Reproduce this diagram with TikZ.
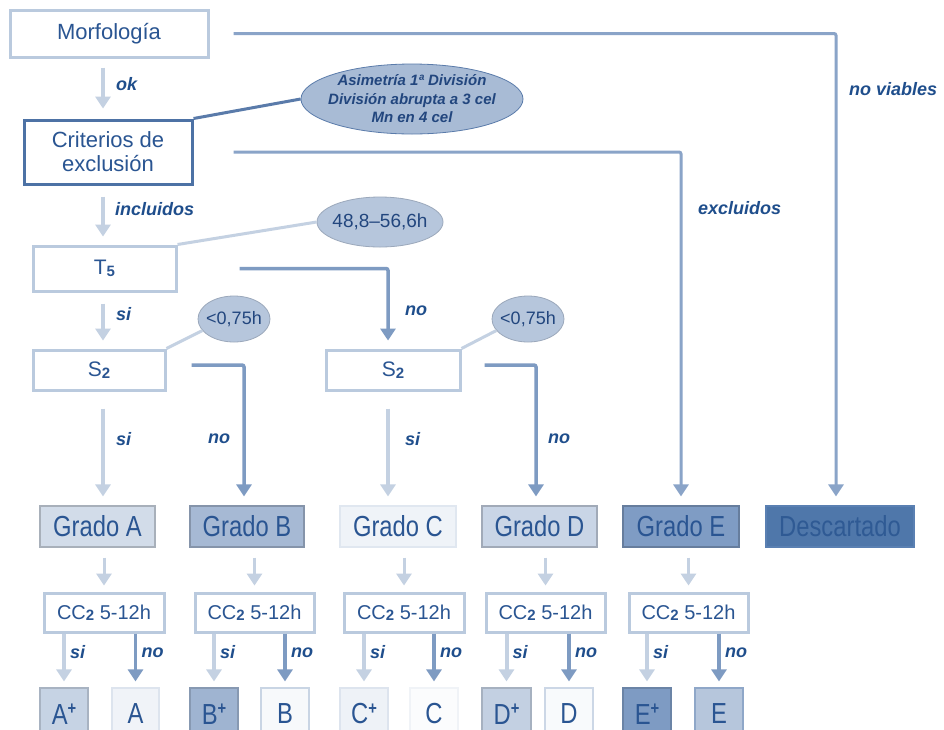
\documentclass[tikz,border=0pt]{standalone}
\usepackage{fontspec}
\setmainfont{Liberation Sans}
\newfontfamily\narrowsans{Liberation Sans}[FakeStretch=0.82]
\usetikzlibrary{arrows.meta,shapes.geometric}
\definecolor{txt}{HTML}{2A5592}
\definecolor{lbl}{HTML}{1F4E8C}
\definecolor{ovtxt}{HTML}{22467E}
\definecolor{lightb}{HTML}{BACADE}
\definecolor{darkb}{HTML}{4D72A5}
\definecolor{arL}{HTML}{C4D1E2}
\definecolor{arD}{HTML}{7E9BC2}
\definecolor{conn}{HTML}{8AA4C8}
\definecolor{ovalA}{HTML}{A8BBD5}
\definecolor{ovalAb}{HTML}{5A7BAA}
\definecolor{ovalB}{HTML}{B6C6DC}
\definecolor{fGA}{HTML}{D2DCE9}
\definecolor{fGB}{HTML}{A6B9D4}
\definecolor{fGC}{HTML}{EFF3F8}
\definecolor{bGC}{HTML}{E0E7F0}
\definecolor{fGD}{HTML}{C9D5E6}
\definecolor{fGE}{HTML}{7F9CC4}
\definecolor{fGX}{HTML}{4F77AA}
\definecolor{bGX}{HTML}{5A80B2}
\definecolor{tGX}{HTML}{2F5A94}
\definecolor{fAP}{HTML}{C6D3E4}
\definecolor{fAN}{HTML}{F0F3F8}
\definecolor{bAN}{HTML}{DDE4EE}
\definecolor{fBP}{HTML}{9FB4D1}
\definecolor{fBN}{HTML}{F7F9FB}
\definecolor{bBN}{HTML}{C9D5E4}
\definecolor{fCP}{HTML}{EEF2F7}
\definecolor{fCN}{HTML}{FBFCFD}
\definecolor{bCN}{HTML}{F0F3F7}
\definecolor{fDP}{HTML}{C3D0E2}
\definecolor{fDN}{HTML}{F8FAFC}
\definecolor{bDN}{HTML}{CCD7E6}
\definecolor{fEP}{HTML}{7E9BC3}
\definecolor{fEN}{HTML}{B6C6DC}
\definecolor{bEN}{HTML}{8FA7C8}
\newcommand\lowdig[1]{\raisebox{-0.12ex}{\bfseries\fontsize{15}{15}\selectfont #1}}
\newcommand\plusmark{\raisebox{0.62ex}{\bfseries\fontsize{18}{18}\selectfont +}}
\tikzset{
  wbox/.style={draw=lightb, line width=3pt, fill=white, inner sep=0pt, text=txt, font=\fontsize{21}{24}\selectfont},
  gbox/.style={draw=#1!80!black, line width=1.2pt, fill=#1, inner sep=0pt, text=txt, font=\narrowsans\fontsize{29}{30}\selectfont, minimum height=41pt},
  lbox/.style={draw=#1!85!black, line width=1.2pt, fill=#1, inner sep=0pt, text=txt, font=\narrowsans\fontsize{29}{30}\selectfont, minimum height=52pt},
  cbox/.style={wbox, minimum height=39pt, font=\fontsize{20}{22}\selectfont},
  arrL/.style={draw=arL, line width=4pt, -{Triangle[width=15pt,length=12pt]}},
  arrD/.style={draw=arD, line width=3.5pt, -{Triangle[width=15pt,length=12pt]}},
  connD/.style={draw=conn, line width=3pt, rounded corners=2pt, -{Triangle[width=15pt,length=12pt]}},
  lab/.style={text=lbl, font=\bfseries\itshape\fontsize{18}{20}\selectfont, inner sep=0pt, anchor=west},
  oval/.style={ellipse, fill=#1, draw=#1!85!black, line width=0.8pt, text=ovtxt},
}
\begin{document}
\begin{tikzpicture}[x=1pt,y=-1pt]
\useasboundingbox (0,0) rectangle (944,729);
\clip (0,0) rectangle (944,729);
\fill[white] (0,0) rectangle (944,729);
% top boxes
\node[wbox, minimum width=198pt, minimum height=47pt, font=\fontsize{22}{24}\selectfont] (M) at (109,33.5) {Morfología};
\node[wbox, draw=darkb, minimum width=168pt, minimum height=64pt, align=center, font=\fontsize{22}{24}\selectfont] (CR) at (108,152) {Criterios de\\exclusión};
\node[wbox, minimum width=143pt, minimum height=45pt] (T) at (104.5,268.5) {T\lowdig{5}};
\node[wbox, minimum width=132pt, minimum height=40pt] (SL) at (99,370) {S\lowdig{2}};
\node[wbox, minimum width=134pt, minimum height=40pt] (SC) at (393,370) {S\lowdig{2}};
% ellipses
\node[oval=ovalA, draw=ovalAb, inner xsep=-12pt, inner ysep=-4pt, minimum width=222pt, minimum height=70pt, align=center, font=\bfseries\itshape\fontsize{15}{18.5}\selectfont] (E1) at (412,99) {Asimetría 1ª División\\División abrupta a 3 cel\\Mn en 4 cel};
\node[oval=ovalB, inner xsep=-4pt, inner ysep=0pt, minimum width=126pt, minimum height=50pt, font=\fontsize{19}{20}\selectfont] (E2) at (380,222) {48,8–56,6h};
\node[oval=ovalB, inner xsep=-4pt, inner ysep=0pt, minimum width=72pt, minimum height=46pt, font=\fontsize{18}{20}\selectfont] (E3) at (234,319) {<0,75h};
\node[oval=ovalB, inner xsep=-4pt, inner ysep=0pt, minimum width=72pt, minimum height=46pt, font=\fontsize{18}{20}\selectfont] (E4) at (528,319) {<0,75h};
% grado row
\node[gbox=fGA, minimum width=115pt] (GA) at (97.5,526.5) {Grado A};
\node[gbox=fGB, minimum width=114pt] (GB) at (247,526.5) {Grado B};
\node[gbox=fGC, draw=bGC, minimum width=116pt] (GC) at (398,526.5) {Grado C};
\node[gbox=fGD, minimum width=115pt] (GD) at (539.5,526.5) {Grado D};
\node[gbox=fGE, minimum width=116pt] (GE) at (681,526.5) {Grado E};
\node[gbox=fGX, draw=bGX, text=tGX, minimum width=148pt] (GX) at (840,526.5) {Descartado};
% CC2 row
\node[cbox, minimum width=120pt] (CA) at (104,612.5) {CC\lowdig{2} 5-12h};
\node[cbox, minimum width=119pt] (CB) at (254.5,612.5) {CC\lowdig{2} 5-12h};
\node[cbox, minimum width=120pt] (CC) at (404,612.5) {CC\lowdig{2} 5-12h};
\node[cbox, minimum width=119pt] (CD) at (545.5,612.5) {CC\lowdig{2} 5-12h};
\node[cbox, minimum width=119pt] (CE) at (688.5,612.5) {CC\lowdig{2} 5-12h};
% bottom row
\node[lbox=fAP, minimum width=48pt] (AP) at (64,714) {A\plusmark};
\node[lbox=fAN, draw=bAN, minimum width=47pt] (AN) at (135.5,714) {A};
\node[lbox=fBP, minimum width=48pt] (BP) at (214,714) {B\plusmark};
\node[lbox=fBN, draw=bBN, minimum width=48pt] (BN) at (285,714) {B};
\node[lbox=fCP, draw=bAN, minimum width=48pt] (CP) at (364,714) {C\plusmark};
\node[lbox=fCN, draw=bCN, minimum width=48pt] (CN) at (434,714) {C};
\node[lbox=fDP, minimum width=49pt] (DP) at (506.5,714) {D\plusmark};
\node[lbox=fDN, draw=bDN, minimum width=48pt] (DN) at (569,714) {D};
\node[lbox=fEP, minimum width=48pt] (EP) at (647,714) {E\plusmark};
\node[lbox=fEN, draw=bEN, minimum width=48pt] (EN) at (719,714) {E};
% ellipse tie lines
\draw[draw=ovalAb, line width=3pt] (CR.north east) -- (E1.west);
\draw[draw=arL, line width=3pt] (T.north east) -- (E2.west);
\draw[draw=arL, line width=3pt] (SL.north east) -- (E3.200);
\draw[draw=arL, line width=3pt] (SC.north east) -- (E4.200);
% vertical arrows main column
\draw[arrL] ([xshift=-6pt,yshift=-9pt]M.south) -- ([xshift=-5pt,yshift=10pt]CR.north);
\draw[arrL] ([xshift=-5pt,yshift=-11pt]CR.south) -- ([xshift=-1.5pt,yshift=8pt]T.north);
\draw[arrL] ([xshift=-1.5pt,yshift=-11pt]T.south) -- ([xshift=4pt,yshift=8pt]SL.north);
\draw[arrL] ([xshift=4pt,yshift=-17pt]SL.south) -- ([xshift=5.5pt,yshift=9pt]GA.north);
\draw[arrL] ([xshift=-5pt,yshift=-17pt]SC.south) -- ([xshift=-10pt,yshift=9pt]GC.north);
% elbow connectors
\draw[connD] ([xshift=24pt]M.east) -| ([xshift=-4pt,yshift=9pt]GX.north);
\draw[connD] ([xshift=40pt]CR.east) -| ([yshift=9pt]GE.north);
\draw[arrD, rounded corners=2pt] ([xshift=62pt]T.east) -| ([xshift=-5pt,yshift=8pt]SC.north);
\draw[arrD, rounded corners=2pt] ([xshift=25pt,yshift=5pt]SL.east) -| ([xshift=-3pt,yshift=9pt]GB.north);
\draw[arrD, rounded corners=2pt] ([xshift=23pt,yshift=5pt]SC.east) -| ([xshift=-3.5pt,yshift=9pt]GD.north);
% grado to CC2
\foreach \g/\c in {GA/CA,GB/CB,GC/CC,GD/CD,GE/CE}{
  \draw[arrL, line width=3pt] ([yshift=-10pt]\g.south -| \c.north) -- ([yshift=6pt]\c.north);
}
% CC2 to bottom
\foreach \c/\p/\n in {CA/AP/AN,CB/BP/BN,CC/CP/CN,CD/DP/DN,CE/EP/EN}{
  \draw[arrL] (\c.south -| \p.north) -- ([yshift=6pt]\p.north);
  \draw[arrD] (\c.south -| \n.north) -- ([yshift=6pt]\n.north);
  \node[lab] at ([xshift=6pt,yshift=-19pt]\c.south -| \p.north) {si};
  \node[lab] at ([xshift=6pt,yshift=-19pt]\c.south -| \n.north) {no};
}
% labels
\node[lab] (l1) at (116,84) {ok};
\node[lab] (l2) at (115,209) {incluidos};
\node[lab] (l3) at (116,314) {si};
\node[lab] (l4) at (405,311) {no};
\node[lab] (l5) at (116,439) {si};
\node[lab] (l6) at (208,439) {no};
\node[lab] (l7) at (405,439) {si};
\node[lab] (l8) at (548,439) {no};
\node[lab] (l9) at (698,208) {excluidos};
\node[lab] (l10) at (849,89) {no viables};
\end{tikzpicture}
\end{document}
